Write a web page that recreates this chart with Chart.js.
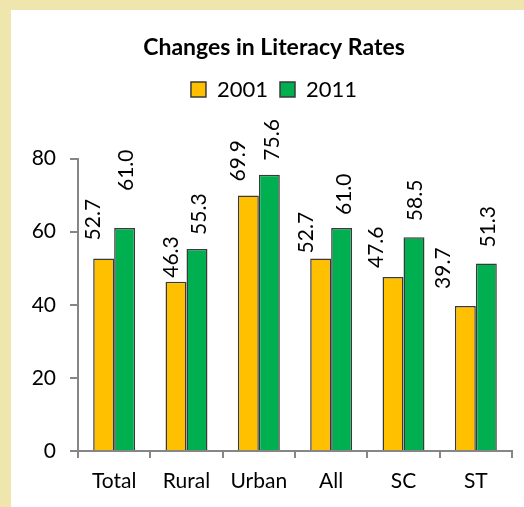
<!DOCTYPE html>
<html>
<head>
<meta charset="utf-8">
<script src="https://cdn.jsdelivr.net/npm/chart.js@4/dist/chart.umd.min.js"></script>
<style>
  html, body { margin: 0; padding: 0; background: #EFE6AE; width: 524px; height: 507px; overflow: hidden; }
  #wrap { position: absolute; left: 11px; top: 10px; width: 513px; height: 497px; background: #ffffff; }
  canvas { display: block; }
</style>
</head>
<body>
<div id="wrap"><canvas id="c" width="513" height="497"></canvas></div>
<script>
// ---- data ----
const categories = ["Total", "Rural", "Urban", "All", "SC", "ST"];
const series2001 = [52.7, 46.3, 69.9, 52.7, 47.6, 39.7];
const series2011 = [61.0, 55.3, 75.6, 61.0, 58.5, 51.3];
const seriesNames = ["2001", "2011"];
const yTicks = [0, 20, 40, 60, 80];

// label nudges (hand-placed labels in the original), px
const labelShift = [
  { dx: [-11.5, -5.5, -11, -15, -18, -23], gap: [18, 4, 14, 5, 9, 17] },
  { dx: [1, 1.5, 1.5, 2, 0, 1], gap: [37, 14, 14, 13, 16, 16] }
];

const FONT = "Lato, 'Open Sans', sans-serif";
const AXIS = "#868686";

const valueLabels = {
  id: "valueLabels",
  afterDatasetsDraw(chart) {
    const ctx = chart.ctx;
    ctx.save();
    ctx.font = "21px " + FONT;
    ctx.fillStyle = "#000";
    ctx.textAlign = "left";
    ctx.textBaseline = "middle";
    chart.data.datasets.forEach((ds, di) => {
      const meta = chart.getDatasetMeta(di);
      meta.data.forEach((bar, i) => {
        const x = bar.x + labelShift[di].dx[i];
        const y = bar.y - labelShift[di].gap[i];
        ctx.save();
        ctx.translate(x, y);
        ctx.rotate(-Math.PI / 2);
        ctx.fillText(ds.data[i].toFixed(1), 0, 1);
        ctx.restore();
      });
    });
    ctx.restore();
  }
};

new Chart(document.getElementById("c"), {
  type: "bar",
  data: {
    labels: categories,
    datasets: [
      { label: seriesNames[0], data: series2001, backgroundColor: "#FFC000", borderColor: "#3a3a3a", borderWidth: 1.5 },
      { label: seriesNames[1], data: series2011, backgroundColor: "#00B050", borderColor: "#3a3a3a", borderWidth: 1.5 }
    ]
  },
  options: {
    responsive: false,
    animation: false,
    devicePixelRatio: 1,
    layout: { padding: { left: 13, right: 0, top: 0, bottom: 0 } },
    datasets: { bar: { categoryPercentage: 0.58, barPercentage: 1.0 } },
    plugins: {
      title: {
        display: true,
        text: "Changes in Literacy Rates",
        color: "#000",
        font: { family: FONT, size: 23, weight: "bold", lineHeight: 1.2 },
        padding: { top: 24, bottom: 5 }
      },
      subtitle: {
        display: true,
        text: "",
        weight: 500,
        font: { size: 10, lineHeight: 1.2 },
        padding: { top: 36, bottom: 0 }
      },
      legend: {
        display: true,
        labels: {
          color: "#000",
          font: { family: FONT, size: 22 },
          boxWidth: 15,
          boxHeight: 15,
          padding: 12
        }
      },
      tooltip: { enabled: false }
    },
    scales: {
      x: {
        afterFit(scale) { scale.height = 56; scale.paddingRight = 12; },
        grid: { offset: true, drawOnChartArea: false, drawTicks: true, tickLength: 7, color: AXIS, lineWidth: 2 },
        border: { display: true, color: AXIS, width: 2 },
        ticks: { color: "#000", font: { family: FONT, size: 21 }, padding: 11, maxRotation: 0 }
      },
      y: {
        min: 0,
        max: 80,
        afterFit(scale) { scale.width = 54; },
        afterBuildTicks(scale) { scale.ticks = yTicks.map(v => ({ value: v })); },
        grid: { drawOnChartArea: false, drawTicks: true, tickLength: 8, color: AXIS, lineWidth: 2 },
        border: { display: true, color: AXIS, width: 2 },
        ticks: { color: "#000", font: { family: FONT, size: 21 }, padding: 14 }
      }
    }
  },
  plugins: [valueLabels]
});
</script>
</body>
</html>
